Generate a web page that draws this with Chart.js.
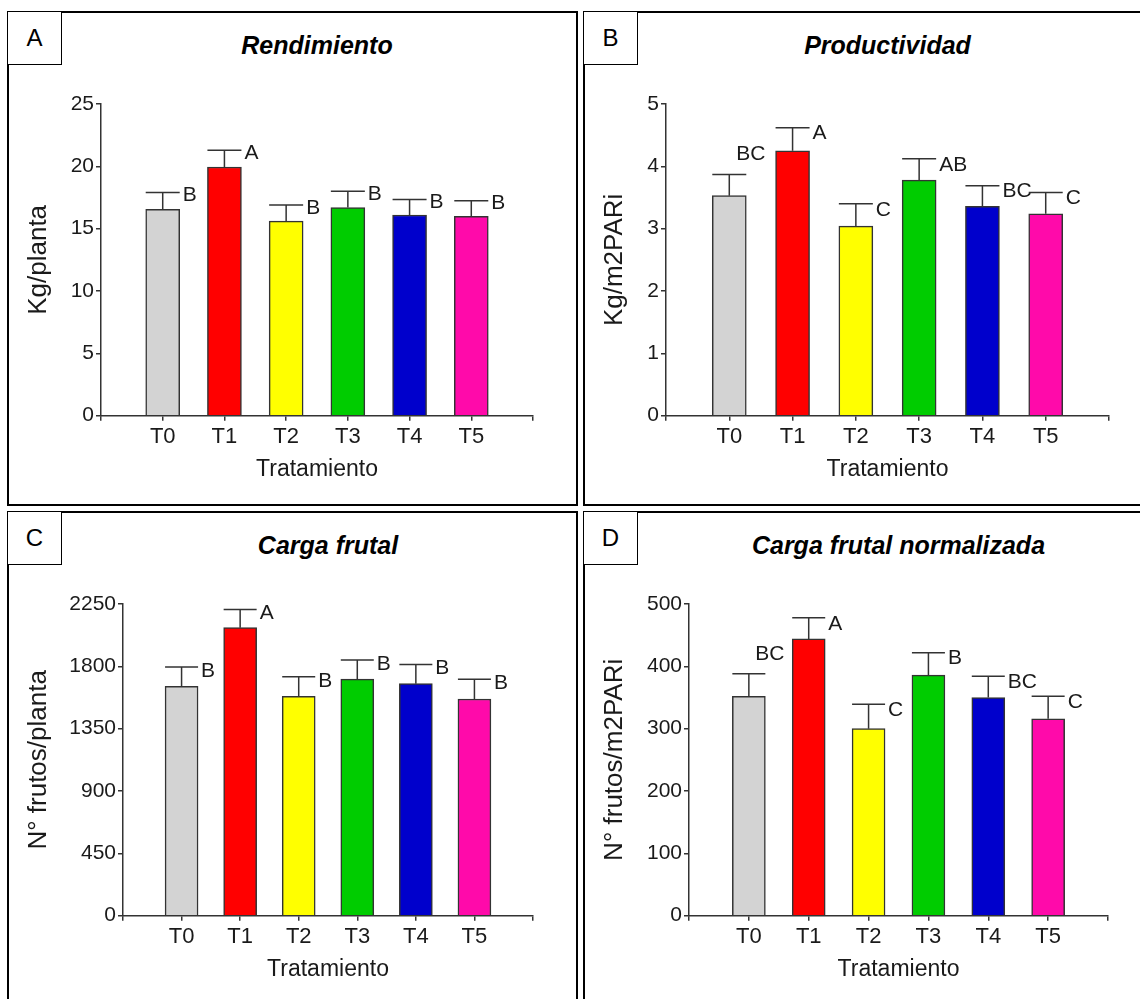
<!DOCTYPE html>
<html>
<head>
<meta charset="utf-8">
<script src="https://cdn.jsdelivr.net/npm/chart.js@4.4.0/dist/chart.umd.min.js"></script>
<style>
body { margin: 0; background: #fff; }
#page { position: relative; width: 1140px; height: 999px; overflow: hidden; font-family: 'Liberation Sans', Arial, sans-serif; }
.frame { position: absolute; border: 2px solid #000; box-sizing: border-box; }
.tag { position: absolute; border: 1px solid #000; box-sizing: border-box; background: #fff; font-size: 24px; text-align: center; color: #000; }
.title { position: absolute; width: 420px; height: 30px; line-height: 30px; text-align: center; font-weight: bold; font-style: italic; font-size: 25px; color: #000; }
canvas { position: absolute; }
</style>
</head>
<body>
<div id="page"></div>
<script>
// treatments and bar colours
const treatments = ['T0', 'T1', 'T2', 'T3', 'T4', 'T5'];
const barColors = ['#D3D3D3', '#FF0000', '#FFFF00', '#00CC00', '#0000CC', '#FF0AAA'];

// A - Rendimiento (Kg/planta)
const rendMean = [16.55, 19.95, 15.6, 16.7, 16.1, 16.0];
const rendErr = [1.35, 1.35, 1.3, 1.3, 1.25, 1.25];
const rendLetters = ['B', 'A', 'B', 'B', 'B', 'B'];

// B - Productividad (Kg/m2PARi)
const prodMean = [3.53, 4.25, 3.04, 3.78, 3.36, 3.24];
const prodErr = [0.34, 0.37, 0.36, 0.34, 0.33, 0.34];
const prodLetters = ['BC', 'A', 'C', 'AB', 'BC', 'C'];

// C - Carga frutal (N° frutos/planta)
const cargaMean = [1656, 2079, 1583, 1708, 1675, 1564];
const cargaErr = [139, 132, 142, 138, 139, 142];
const cargaLetters = ['B', 'A', 'B', 'B', 'B', 'B'];

// D - Carga frutal normalizada (N° frutos/m2PARi)
const normMean = [352, 444, 300, 386, 350, 316];
const normErr = [36, 34, 39, 36, 34, 36];
const normLetters = ['BC', 'A', 'C', 'B', 'BC', 'C'];

const sans = "'Liberation Sans', Arial, sans-serif";
const axisColor = '#333';
const textColor = '#1a1a1a';

const panels = [
  { tag: 'A', title: 'Rendimiento', yTitle: 'Kg/planta', mean: rendMean, err: rendErr, letters: rendLetters,
    max: 25, step: 5, frame: [7, 11, 571, 495], area: [101, 104, 533, 415.7], yTitleX: 39, xTitleY: 470,
    barW: 34, labelDy: 3, above: -1 },
  { tag: 'B', title: 'Productividad', yTitle: 'Kg/m2PARi', mean: prodMean, err: prodErr, letters: prodLetters,
    max: 5, step: 1, frame: [583, 11, 600, 495], area: [666, 104, 1109, 415.7], yTitleX: 615, xTitleY: 470,
    barW: 34, labelDy: 6, above: 0 },
  { tag: 'C', title: 'Carga frutal', yTitle: 'N° frutos/planta', mean: cargaMean, err: cargaErr, letters: cargaLetters,
    max: 2250, step: 450, frame: [7, 511, 571, 600], area: [123, 604, 533, 915.7], yTitleX: 39, xTitleY: 970,
    barW: 33, labelDy: 4, above: -1 },
  { tag: 'D', title: 'Carga frutal normalizada', yTitle: 'N° frutos/m2PARi', mean: normMean, err: normErr, letters: normLetters,
    max: 500, step: 100, frame: [583, 511, 600, 600], area: [689, 604, 1108, 915.7], yTitleX: 615, xTitleY: 970,
    barW: 33, labelDy: 6, above: 0 },
];

const page = document.getElementById('page');

function box(cls, l, t, w, h, text) {
  const d = document.createElement('div');
  d.className = cls;
  Object.assign(d.style, { left: l + 'px', top: t + 'px', width: w + 'px', height: h + 'px' });
  if (text) d.textContent = text;
  page.appendChild(d);
  return d;
}

function errorBars(p) {
  return {
    id: 'errorBars' + p.tag,
    afterDatasetsDraw(chart) {
      const { ctx, scales } = chart;
      const meta = chart.getDatasetMeta(0);
      ctx.save();
      ctx.strokeStyle = axisColor;
      ctx.lineWidth = 1.5;
      ctx.fillStyle = textColor;
      ctx.font = '21px ' + sans;
      ctx.textBaseline = 'middle';
      ctx.textAlign = 'left';
      p.mean.forEach((v, i) => {
        const bar = meta.data[i + 1];
        const half = bar.width / 2;
        const yCap = scales.y.getPixelForValue(v + p.err[i]);
        ctx.beginPath();
        ctx.moveTo(bar.x, bar.y);
        ctx.lineTo(bar.x, yCap);
        ctx.moveTo(bar.x - half, yCap);
        ctx.lineTo(bar.x + half, yCap);
        ctx.stroke();
        if (i === p.above) {
          ctx.fillText(p.letters[i], bar.x + half - 10, yCap - 20);
        } else {
          ctx.fillText(p.letters[i], bar.x + half + 3, yCap + p.labelDy);
        }
      });
      ctx.restore();
    }
  };
}

panels.forEach(p => {
  const [fl, ft, fw, fh] = p.frame;
  box('frame', fl, ft, fw, fh);
  box('tag', fl, ft, 55, 54, p.tag).style.lineHeight = '52px';
  const midX = (p.area[0] + p.area[2]) / 2;
  box('title', midX - 210, ft + 19, 420, 30, p.title);

  const canvas = document.createElement('canvas');
  canvas.width = fw;
  canvas.height = fh;
  canvas.style.left = fl + 'px';
  canvas.style.top = ft + 'px';
  page.appendChild(canvas);

  const yTitleSize = 26, xTitleSize = 23;
  const padLeft = p.yTitleX - fl - yTitleSize * 1.2 / 2;
  const yWidth = p.area[0] - fl - padLeft;
  const xBottom = p.xTitleY - ft + xTitleSize * 1.2 / 2;
  const xHeight = xBottom - (p.area[3] - ft);

  new Chart(canvas, {
    type: 'bar',
    data: {
      labels: ['', ...treatments, ''],
      datasets: [{
        data: [null, ...p.mean, null],
        backgroundColor: ['transparent', ...barColors, 'transparent'],
        borderColor: axisColor,
        borderWidth: 1.5,
        barThickness: p.barW,
      }],
    },
    options: {
      responsive: false,
      animation: false,
      events: [],
      layout: {
        padding: { left: padLeft, right: fw - (p.area[2] - fl), top: p.area[1] - ft, bottom: fh - xBottom },
      },
      plugins: { legend: { display: false }, tooltip: { enabled: false } },
      scales: {
        x: {
          type: 'category',
          offset: false,
          grid: { offset: false, drawOnChartArea: false, drawTicks: true, tickLength: 5, color: axisColor, lineWidth: 1.5 },
          border: { color: axisColor, width: 1.5 },
          ticks: { font: { family: sans, size: 22 }, color: textColor, padding: 3, autoSkip: false, maxRotation: 0 },
          title: { display: true, text: 'Tratamiento', font: { family: sans, size: xTitleSize }, color: textColor, padding: 0 },
          afterFit: s => { s.height = xHeight; },
        },
        y: {
          min: 0,
          max: p.max,
          grid: { drawOnChartArea: false, drawTicks: true, tickLength: 5, color: axisColor, lineWidth: 1.5 },
          border: { color: axisColor, width: 1.5 },
          ticks: { stepSize: p.step, font: { family: sans, size: 21 }, color: textColor, padding: 2, callback: v => String(v) },
          title: { display: true, text: p.yTitle, font: { family: sans, size: yTitleSize }, color: textColor, padding: 0 },
          afterFit: s => { s.width = yWidth; },
        },
      },
    },
    plugins: [errorBars(p)],
  });
});
</script>
</body>
</html>
